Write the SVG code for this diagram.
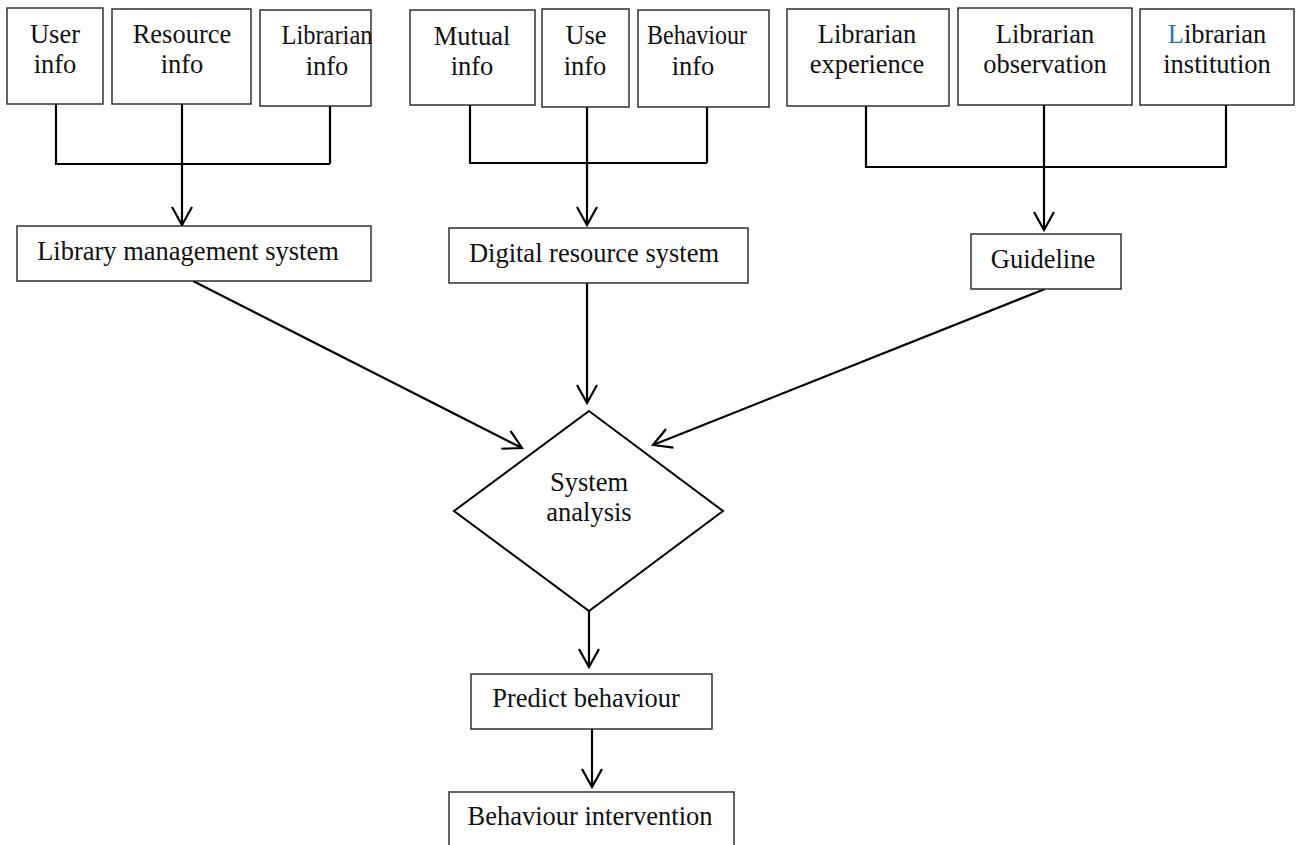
<svg xmlns="http://www.w3.org/2000/svg" width="1297" height="845" viewBox="0 0 1297 845">
<style>
  .box { fill: #fff; stroke: #222; stroke-width: 1.4; }
  .t { font-family: "Liberation Serif", "Times New Roman", serif; font-size: 26.5px; fill: #111; text-anchor: middle; }
  .c { fill: none; stroke: #000; stroke-width: 2.2; }
</style>
<defs>
  <marker id="ah" markerUnits="userSpaceOnUse" markerWidth="24" markerHeight="24" viewBox="-20 -12 24 24" refX="0" refY="0" orient="auto" overflow="visible">
    <path d="M-18,-10 L0,0 L-18,10" fill="none" stroke="#000" stroke-width="2.2"/>
  </marker>
</defs>
<rect width="1297" height="845" fill="#fff"/>

<g id="connectors">
  <path class="c" d="M56,104 V164 H330 M330,106 V164"/>
  <path class="c" d="M182,104 V225" marker-end="url(#ah)"/>
  <path class="c" d="M470,105 V163 H707 M707,107 V163"/>
  <path class="c" d="M587,107 V225" marker-end="url(#ah)"/>
  <path class="c" d="M866,106 V167 H1227 M1226,105 V167"/>
  <path class="c" d="M1044,105 V230" marker-end="url(#ah)"/>
  <path class="c" d="M193,281 L522,448" marker-end="url(#ah)"/>
  <path class="c" d="M587,283 V403" marker-end="url(#ah)"/>
  <path class="c" d="M1045,289 L653,445" marker-end="url(#ah)"/>
  <path class="c" d="M589,611 V667" marker-end="url(#ah)"/>
  <path class="c" d="M592,729 V787" marker-end="url(#ah)"/>
</g>

<g id="user-info">
  <rect class="box" x="7" y="8" width="96" height="96"/>
  <text class="t" x="55" y="43">User</text>
  <text class="t" x="55" y="73">info</text>
</g>
<g id="resource-info">
  <rect class="box" x="112" y="9" width="139" height="95"/>
  <text class="t" x="182" y="43">Resource</text>
  <text class="t" x="182" y="73">info</text>
</g>
<g id="librarian-info">
  <rect class="box" x="260" y="10" width="111" height="96"/>
  <text class="t" x="327" y="44" textLength="91" lengthAdjust="spacingAndGlyphs">Librarian</text>
  <text class="t" x="327" y="75">info</text>
</g>
<g id="mutual-info">
  <rect class="box" x="410" y="10" width="125" height="95"/>
  <text class="t" x="472" y="45">Mutual</text>
  <text class="t" x="472" y="75">info</text>
</g>
<g id="use-info">
  <rect class="box" x="542" y="9" width="87" height="98"/>
  <text class="t" x="586" y="44">Use</text>
  <text class="t" x="585" y="75">info</text>
</g>
<g id="behaviour-info">
  <rect class="box" x="638" y="10" width="131" height="97"/>
  <text class="t" x="697" y="44" textLength="100" lengthAdjust="spacingAndGlyphs">Behaviour</text>
  <text class="t" x="693" y="75">info</text>
</g>
<g id="librarian-experience">
  <rect class="box" x="787" y="9" width="162" height="97"/>
  <text class="t" x="867" y="43">Librarian</text>
  <text class="t" x="867" y="73">experience</text>
</g>
<g id="librarian-observation">
  <rect class="box" x="958" y="8" width="174" height="97"/>
  <text class="t" x="1045" y="43">Librarian</text>
  <text class="t" x="1045" y="73">observation</text>
</g>
<g id="librarian-institution">
  <rect class="box" x="1140" y="9" width="154" height="96"/>
  <text class="t" x="1217" y="43"><tspan fill="#2E75B6">L</tspan>ibrarian</text>
  <text class="t" x="1217" y="73">institution</text>
</g>

<g id="library-management-system">
  <rect class="box" x="17" y="226" width="354" height="55"/>
  <text class="t" x="188" y="260">Library management system</text>
</g>
<g id="digital-resource-system">
  <rect class="box" x="449" y="228" width="299" height="55"/>
  <text class="t" x="594" y="262">Digital resource system</text>
</g>
<g id="guideline">
  <rect class="box" x="971" y="234" width="150" height="55"/>
  <text class="t" x="1043" y="268">Guideline</text>
</g>

<g id="system-analysis">
  <polygon points="589,411 723,511 589,611 454,511" fill="#fff" stroke="#000" stroke-width="2"/>
  <text class="t" x="589" y="491">System</text>
  <text class="t" x="589" y="521">analysis</text>
</g>

<g id="predict-behaviour">
  <rect class="box" x="471" y="674" width="241" height="55"/>
  <text class="t" x="586" y="707">Predict behaviour</text>
</g>
<g id="behaviour-intervention">
  <rect class="box" x="449" y="792" width="285" height="60"/>
  <text class="t" x="590" y="825">Behaviour intervention</text>
</g>
</svg>
